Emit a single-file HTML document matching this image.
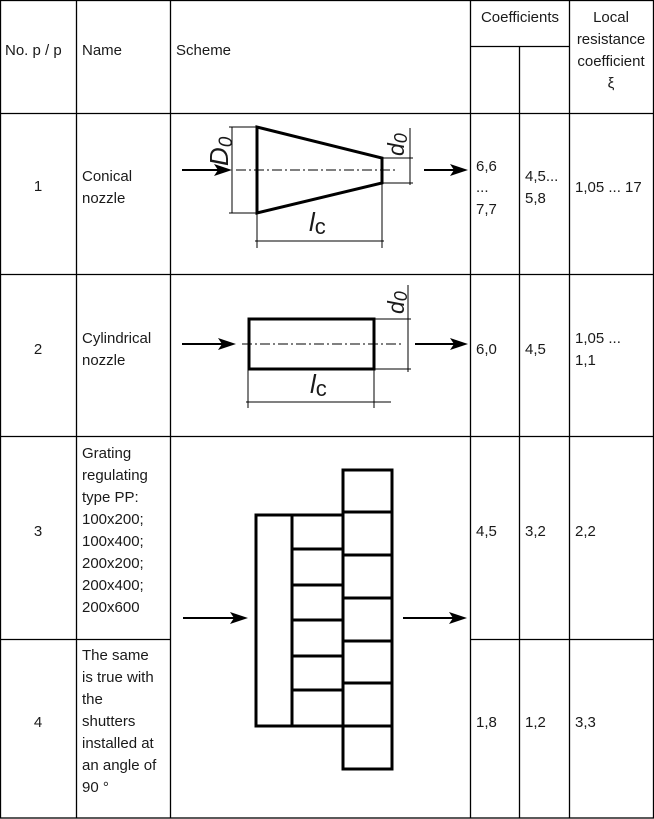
<!DOCTYPE html>
<html><head><meta charset="utf-8"><style>
html,body{margin:0;padding:0;background:#fff;}
svg{display:block;}
text{font-family:"Liberation Sans","DejaVu Sans",sans-serif;font-size:15px;fill:#1a1a1a;}
</style></head><body>
<svg width="654" height="819" viewBox="0 0 654 819" xmlns="http://www.w3.org/2000/svg">
<!-- grid -->
<g stroke="#000" stroke-width="1.3" fill="none">
<rect x="0.5" y="0.5" width="653" height="817.5"/>
<line x1="76.5" y1="0" x2="76.5" y2="818"/>
<line x1="170.5" y1="0" x2="170.5" y2="818"/>
<line x1="470.5" y1="0" x2="470.5" y2="818"/>
<line x1="519.5" y1="46" x2="519.5" y2="818"/>
<line x1="569.5" y1="0" x2="569.5" y2="818"/>
<line x1="470" y1="46.5" x2="569" y2="46.5"/>
<line x1="0" y1="113.5" x2="654" y2="113.5"/>
<line x1="0" y1="274.5" x2="654" y2="274.5"/>
<line x1="0" y1="436.5" x2="654" y2="436.5"/>
<line x1="0" y1="639.5" x2="170" y2="639.5"/>
<line x1="470" y1="639.5" x2="654" y2="639.5"/>
</g>
<!-- header -->
<text x="5" y="55">No. p / p</text>
<text x="82" y="55">Name</text>
<text x="176" y="55">Scheme</text>
<text x="520" y="22" text-anchor="middle">Coefficients</text>
<text x="611" y="22" text-anchor="middle">Local</text>
<text x="611" y="44" text-anchor="middle">resistance</text>
<text x="611" y="66" text-anchor="middle">coefficient</text>
<text x="611" y="88" text-anchor="middle">ξ</text>
<!-- row1 -->
<text x="38" y="191" text-anchor="middle">1</text>
<text x="82" y="181">Conical</text>
<text x="82" y="203">nozzle</text>
<text x="476" y="171">6,6</text>
<text x="476" y="192">...</text>
<text x="476" y="214">7,7</text>
<text x="525" y="181">4,5...</text>
<text x="525" y="203">5,8</text>
<text x="575" y="192">1,05 ... 17</text>
<!-- row2 -->
<text x="38" y="354" text-anchor="middle">2</text>
<text x="82" y="343">Cylindrical</text>
<text x="82" y="365">nozzle</text>
<text x="476" y="354">6,0</text>
<text x="525" y="354">4,5</text>
<text x="575" y="343">1,05 ...</text>
<text x="575" y="365">1,1</text>
<!-- row3 -->
<text x="38" y="536" text-anchor="middle">3</text>
<text x="82" y="458">Grating</text>
<text x="82" y="480">regulating</text>
<text x="82" y="502">type PP:</text>
<text x="82" y="524">100x200;</text>
<text x="82" y="546">100x400;</text>
<text x="82" y="568">200x200;</text>
<text x="82" y="590">200x400;</text>
<text x="82" y="612">200x600</text>
<text x="476" y="536">4,5</text>
<text x="525" y="536">3,2</text>
<text x="575" y="536">2,2</text>
<!-- row4 -->
<text x="38" y="727" text-anchor="middle">4</text>
<text x="82" y="660">The same</text>
<text x="82" y="682">is true with</text>
<text x="82" y="704">the</text>
<text x="82" y="726">shutters</text>
<text x="82" y="748">installed at</text>
<text x="82" y="770">an angle of</text>
<text x="82" y="792">90 °</text>
<text x="476" y="727">1,8</text>
<text x="525" y="727">1,2</text>
<text x="575" y="727">3,3</text>

<!-- arrowheads -->
<g fill="#000">
<path d="M232,170 L214,164 L218,170 L214,176 Z"/>
<path d="M468,170 L450,164 L454,170 L450,176 Z"/>
<path d="M236,344 L218,338 L222,344 L218,350 Z"/>
<path d="M468,344 L450,338 L454,344 L450,350 Z"/>
<path d="M248,618 L230,612 L234,618 L230,624 Z"/>
<path d="M467,618 L449,612 L453,618 L449,624 Z"/>
</g>

<!-- scheme 1 -->
<g stroke="#000" fill="none">
<path d="M257,127 L257,213 L382,183 L382,158 Z" stroke-width="3"/>
<line x1="182" y1="170" x2="220" y2="170" stroke-width="2"/>
<line x1="424" y1="170" x2="455" y2="170" stroke-width="2"/>
<line x1="236" y1="170" x2="398" y2="170" stroke-width="1" stroke-dasharray="10,3,2,3"/>
<line x1="232" y1="127" x2="232" y2="213" stroke-width="1"/>
<line x1="229" y1="127" x2="257" y2="127" stroke-width="1"/>
<line x1="229" y1="213" x2="257" y2="213" stroke-width="1"/>
<line x1="410" y1="128" x2="410" y2="185" stroke-width="1"/>
<line x1="382" y1="158" x2="413" y2="158" stroke-width="1"/>
<line x1="382" y1="183" x2="413" y2="183" stroke-width="1"/>
<line x1="257" y1="213" x2="257" y2="248" stroke-width="1"/>
<line x1="382" y1="183" x2="382" y2="248" stroke-width="1"/>
<line x1="255" y1="241" x2="384" y2="241" stroke-width="1"/>
</g>
<text x="0" y="0" transform="translate(228,166) rotate(-90)" style="font-size:26px;font-style:italic;">D<tspan style="font-size:19px" dy="4">0</tspan></text>
<text x="0" y="0" transform="translate(404,156) rotate(-90)" style="font-size:23px;font-style:italic;">d<tspan style="font-size:18px" dy="3">0</tspan></text>
<text x="309" y="231" style="font-size:26px;font-style:italic;">l<tspan style="font-size:22px;font-style:normal" dy="3">c</tspan></text>

<!-- scheme 2 -->
<g stroke="#000" fill="none">
<rect x="249" y="319" width="125" height="50" stroke-width="3"/>
<line x1="182" y1="344" x2="224" y2="344" stroke-width="2"/>
<line x1="415" y1="344" x2="455" y2="344" stroke-width="2"/>
<line x1="242" y1="344" x2="404" y2="344" stroke-width="1" stroke-dasharray="10,3,2,3"/>
<line x1="408" y1="285" x2="408" y2="372" stroke-width="1"/>
<line x1="374" y1="319" x2="411" y2="319" stroke-width="1"/>
<line x1="374" y1="369" x2="411" y2="369" stroke-width="1"/>
<line x1="248" y1="369" x2="248" y2="408" stroke-width="1"/>
<line x1="374" y1="369" x2="374" y2="408" stroke-width="1"/>
<line x1="246" y1="402" x2="391" y2="402" stroke-width="1"/>
</g>
<text x="0" y="0" transform="translate(404,314) rotate(-90)" style="font-size:23px;font-style:italic;">d<tspan style="font-size:18px" dy="3">0</tspan></text>
<text x="310" y="393" style="font-size:26px;font-style:italic;">l<tspan style="font-size:22px;font-style:normal" dy="3">c</tspan></text>

<!-- scheme 3 -->
<g stroke="#000" stroke-width="3" fill="none">
<rect x="256" y="515" width="36" height="211"/>
<rect x="292" y="515" width="51" height="211"/>
<line x1="292" y1="549" x2="343" y2="549"/>
<line x1="292" y1="585" x2="343" y2="585"/>
<line x1="292" y1="620" x2="343" y2="620"/>
<line x1="292" y1="656" x2="343" y2="656"/>
<line x1="292" y1="690" x2="343" y2="690"/>
<rect x="343" y="470" width="49" height="299"/>
<line x1="343" y1="512" x2="392" y2="512"/>
<line x1="343" y1="555" x2="392" y2="555"/>
<line x1="343" y1="598" x2="392" y2="598"/>
<line x1="343" y1="641" x2="392" y2="641"/>
<line x1="343" y1="683" x2="392" y2="683"/>
<line x1="343" y1="726" x2="392" y2="726"/>
<line x1="183" y1="618" x2="236" y2="618" stroke-width="2"/>
<line x1="403" y1="618" x2="455" y2="618" stroke-width="2"/>
</g>
</svg>
</body></html>
